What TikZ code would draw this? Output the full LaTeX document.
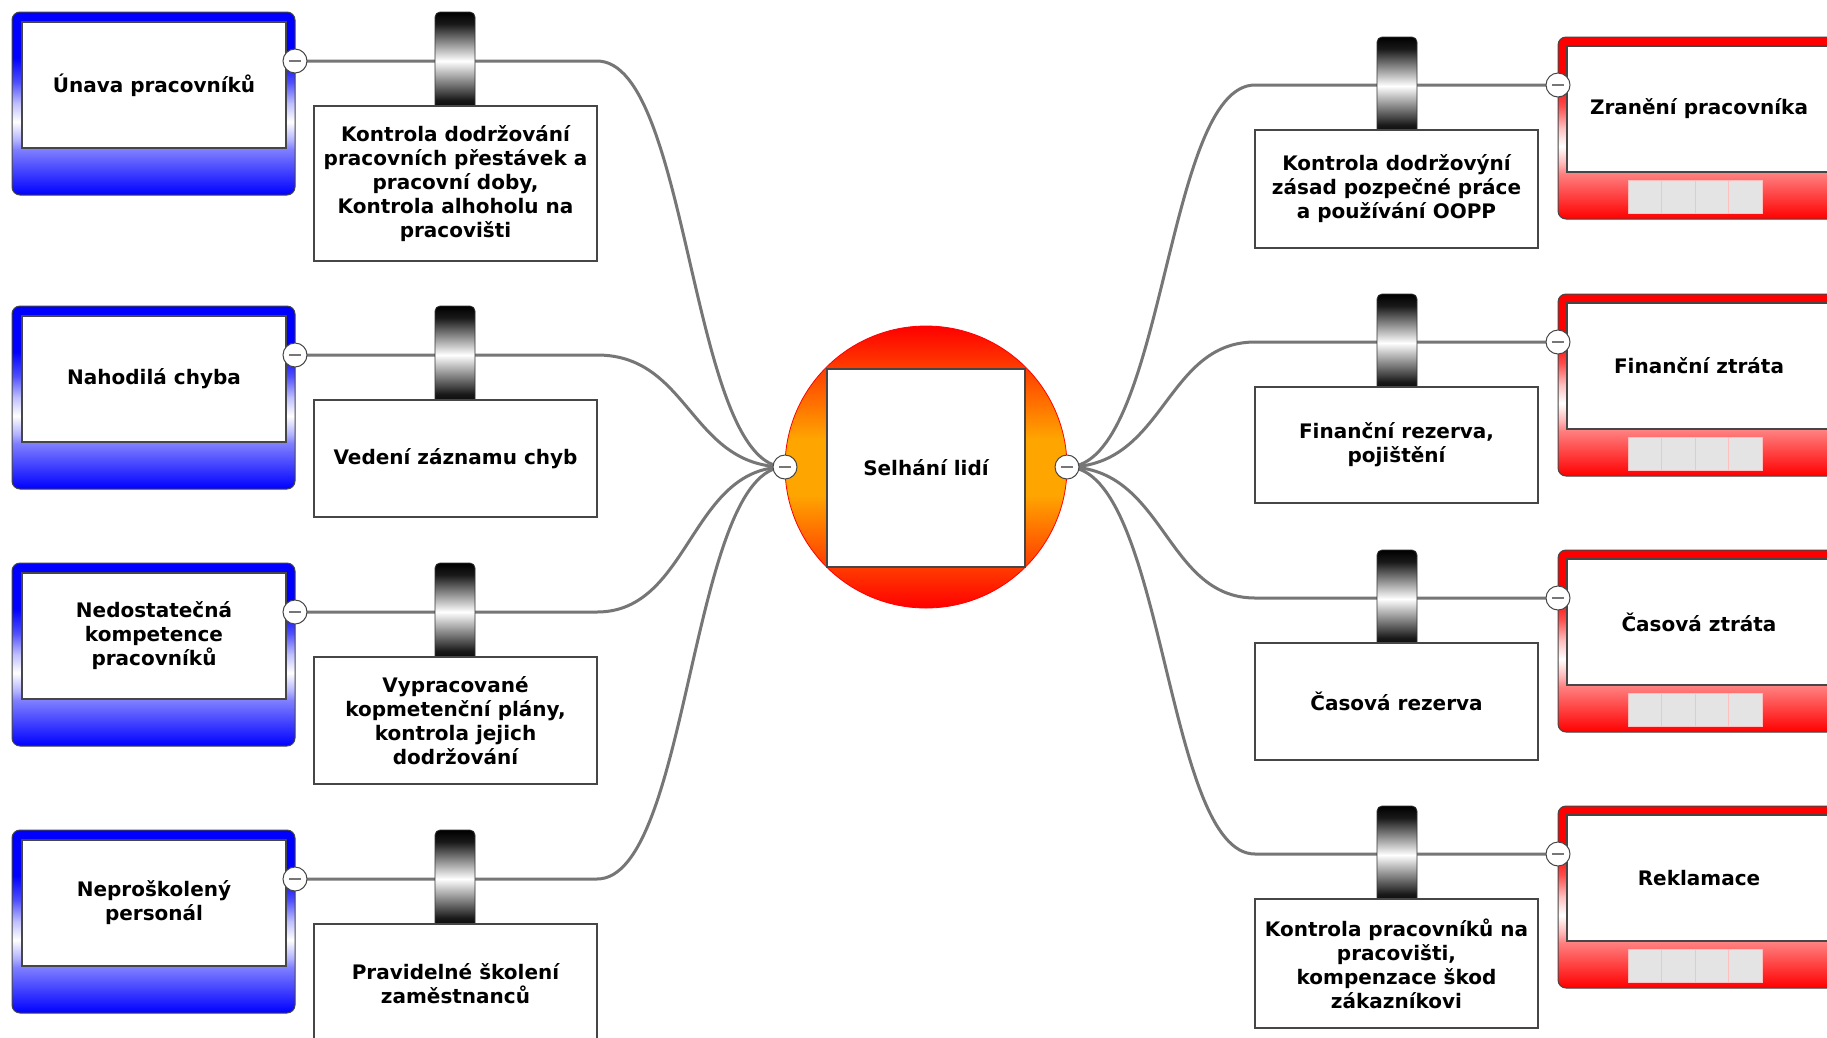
\documentclass[tikz,border=0pt]{standalone}
\usepackage{fontspec}
\setmainfont{DejaVu Sans}
\usetikzlibrary{calc}
\pgfdeclarelayer{back}
\pgfdeclarelayer{bg}
\pgfsetlayers{back,bg,main}
\definecolor{orng}{RGB}{255,165,0}
\definecolor{lineg}{RGB}{118,118,118}
\definecolor{edge}{RGB}{70,70,70}
\definecolor{sqg}{RGB}{228,228,228}
\pgfdeclareverticalshading{blueshade}{100bp}{color(0bp)=(blue); color(25bp)=(blue); color(37.5bp)=(blue!50!white); color(40bp)=(blue!30!white); color(45bp)=(white); color(50bp)=(blue!25!white); color(56bp)=(blue!70!white); color(62.5bp)=(blue); color(100bp)=(blue)}
\pgfdeclareverticalshading{redshade}{100bp}{color(0bp)=(red); color(25bp)=(red); color(37.5bp)=(red!50!white); color(40bp)=(red!30!white); color(45bp)=(white); color(50bp)=(red!25!white); color(56bp)=(red!70!white); color(62.5bp)=(red); color(100bp)=(red)}
\pgfdeclareverticalshading{barshade}{100bp}{color(0bp)=(black); color(25bp)=(black); color(31bp)=(black!90); color(50.5bp)=(white); color(69bp)=(black!90); color(75bp)=(black); color(100bp)=(black)}
\pgfdeclareverticalshading{ballshade}{100bp}{color(0bp)=(red); color(25bp)=(red); color(45bp)=(orng); color(55bp)=(orng); color(75bp)=(red); color(100bp)=(red)}
\tikzset{
  every node/.style={font=\fontsize{20}{24}\selectfont\bfseries, inner sep=0pt, outer sep=0pt},
  bluebox/.style={rectangle, rounded corners=8pt, shade, shading=blueshade, draw=edge, line width=1pt, minimum width=283pt, minimum height=183pt, anchor=north west},
  redbox/.style={rectangle, rounded corners=8pt, shade, shading=redshade, draw=edge, line width=1pt, minimum width=283pt, minimum height=182pt, anchor=north west},
  innerbox/.style={rectangle, fill=white, draw=edge, line width=1.3pt, minimum width=264pt, minimum height=126pt, anchor=north west, align=center},
  measbox/.style={rectangle, fill=white, draw=edge, line width=1.5pt, minimum width=283pt, anchor=north west, align=center},
  barbox/.style={rectangle, rounded corners=5pt, shade, shading=barshade, draw=black!80, line width=0.8pt, minimum width=40pt, minimum height=100pt, anchor=north west},
  sqbox/.style={rectangle, fill=sqg, draw=red!25!white, line width=0.8pt, minimum width=33.5pt, minimum height=33pt, anchor=north west},
  minus/.style={circle, fill=white, draw=edge, line width=1pt, minimum size=24pt,
    path picture={\draw[lineg, line width=2.5pt] ([xshift=-6pt]path picture bounding box.center) -- ([xshift=6pt]path picture bounding box.center);}},
  ball/.style={circle, shade, shading=ballshade, draw=red, line width=0.8pt, minimum size=282pt},
  corebox/.style={rectangle, fill=white, draw=edge, line width=1.6pt, minimum width=198pt, minimum height=198pt},
  conn/.style={draw=lineg, line width=3pt}
}
\newcommand\LeftRow[5]{%
  \node[bluebox] (blue#1) at (12,#2) {};
  \node[innerbox] (cause#1) at (22,#2+10) {#4};
  \node[barbox] (barL#1) at (435,#2) {};
  \node[measbox, minimum height=#3] (measL#1) at (314,#2+94) {#5};
  \node[minus] (mL#1) at (295,#2+49) {};
  \coordinate (kL#1) at (597,#2+49);
  \begin{pgfonlayer}{bg}
    \draw[conn] (mL#1.center) -- (kL#1) .. controls +(93,0) and +(-95,0) .. (cL.center);
  \end{pgfonlayer}
}
\newcommand\RightRow[5]{%
  \node[redbox] (red#1) at (1558,#2) {};
  \node[innerbox] (eff#1) at (1567,#2+9) {#4};
  \foreach \k in {0,1,2,3} {\node[sqbox] (sq#1\k) at (1628+\k*33.5,#2+143) {};}
  \node[barbox] (barR#1) at (1377,#2) {};
  \node[measbox, minimum height=#3] (measR#1) at (1255,#2+93) {#5};
  \node[minus] (mR#1) at (1558,#2+48) {};
  \coordinate (kR#1) at (1255,#2+48);
  \begin{pgfonlayer}{bg}
    \draw[conn] (cR.center) .. controls +(98,0) and +(-90,0) .. (kR#1) -- (mR#1.center);
  \end{pgfonlayer}
}
\begin{document}
\begin{tikzpicture}[x=1pt,y=-1pt]
\useasboundingbox (0,0) rectangle (1827,1037);
\begin{pgfonlayer}{back}
  \fill[white] (0,0) rectangle (1827,1037);
\end{pgfonlayer}
\clip (0,0) rectangle (1827,1037);
% centre
\node[ball] (ball) at (926,467) {};
\node[corebox] (core) at (926,468) {Selhání lidí};
\node[minus] (cL) at (785,467) {};
\node[minus] (cR) at (1067,467) {};
% left side
\LeftRow{1}{12}{155pt}{Únava pracovníků}{Kontrola dodržování\\pracovních přestávek a\\pracovní doby,\\Kontrola alhoholu na\\pracovišti}
\LeftRow{2}{306}{117pt}{Nahodilá chyba}{Vedení záznamu chyb}
\LeftRow{3}{563}{127pt}{Nedostatečná\\kompetence\\pracovníků}{Vypracované\\kopmetenční plány,\\kontrola jejich\\dodržování}
\LeftRow{4}{830}{119pt}{Neproškolený\\personál}{Pravidelné školení\\zaměstnanců}
% right side
\RightRow{1}{37}{118pt}{Zranění pracovníka}{Kontrola dodržovýní\\zásad pozpečné práce\\a používání OOPP}
\RightRow{2}{294}{116pt}{Finanční ztráta}{Finanční rezerva,\\pojištění}
\RightRow{3}{550}{117pt}{Časová ztráta}{Časová rezerva}
\RightRow{4}{806}{129pt}{Reklamace}{Kontrola pracovníků na\\pracovišti,\\kompenzace škod\\zákazníkovi}
\end{tikzpicture}
\end{document}
